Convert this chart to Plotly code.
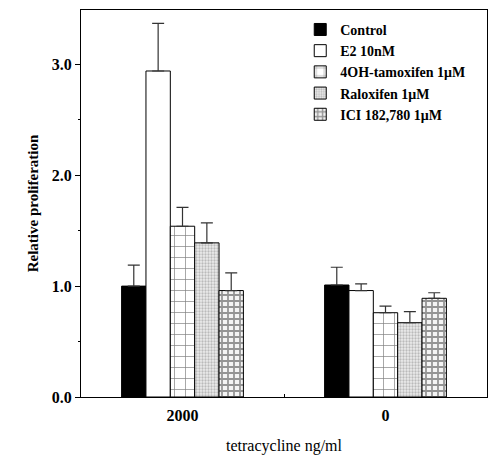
import plotly.graph_objects as go

categories = ["2000", "0"]
series_names = ["Control", "E2 10nM", "4OH-tamoxifen 1μM", "Raloxifen 1μM", "ICI 182,780 1μM"]
values = {
    "Control": [1.00, 1.01],
    "E2 10nM": [2.94, 0.96],
    "4OH-tamoxifen 1μM": [1.54, 0.76],
    "Raloxifen 1μM": [1.39, 0.67],
    "ICI 182,780 1μM": [0.96, 0.89],
}
errors = {
    "Control": [0.19, 0.16],
    "E2 10nM": [0.43, 0.06],
    "4OH-tamoxifen 1μM": [0.17, 0.06],
    "Raloxifen 1μM": [0.18, 0.10],
    "ICI 182,780 1μM": [0.16, 0.05],
}
y_ticks = [0.0, 1.0, 2.0, 3.0]
y_tick_labels = ["0.0", "1.0", "2.0", "3.0"]

styles = {
    "Control": dict(color="black", pattern=dict(shape="")),
    "E2 10nM": dict(color="white", pattern=dict(shape="")),
    "4OH-tamoxifen 1μM": dict(color="white", pattern=dict(shape="+", size=11, solidity=0.12, fgcolor="black", bgcolor="white", fillmode="overlay")),
    "Raloxifen 1μM": dict(color="white", pattern=dict(shape=".", size=3, solidity=0.45, fgcolor="#888888", bgcolor="#ececec", fillmode="overlay")),
    "ICI 182,780 1μM": dict(color="white", pattern=dict(shape="+", size=6, solidity=0.5, fgcolor="#333333", bgcolor="#f4f4f4", fillmode="overlay")),
}

fig = go.Figure()
for name in series_names:
    st = styles[name]
    fig.add_trace(go.Bar(
        name=name,
        x=categories,
        y=values[name],
        marker=dict(color=st["color"], pattern=st["pattern"], line=dict(color="black", width=1)),
        error_y=dict(type="data", array=errors[name], arrayminus=[0, 0], symmetric=False,
                     color="#333333", thickness=1.2, width=6),
    ))

font_serif = "Liberation Serif, Times New Roman, serif"
fig.update_layout(
    width=490, height=454,
    margin=dict(l=73, r=11, t=2, b=65, autoexpand=False),
    plot_bgcolor="white", paper_bgcolor="white",
    barmode="group", bargap=0.40, bargroupgap=0,
    font=dict(family=font_serif, color="black"),
    showlegend=True,
    legend=dict(x=0.54, y=0.99, xanchor="left", yanchor="top",
                font=dict(family=font_serif, size=14, color="black", weight="bold"),
                bgcolor="rgba(0,0,0,0)", itemwidth=30, tracegroupgap=0),
    xaxis=dict(
        showline=True, linecolor="black", linewidth=1, mirror=True,
        range=[-0.5, 1.5], automargin=False,
        ticks="inside", tickson="boundaries", ticklen=3, tickcolor="black",
        ticklabelstandoff=4,
        tickfont=dict(family=font_serif, size=16, weight="bold"),
        title=dict(text="tetracycline ng/ml", font=dict(family=font_serif, size=16), standoff=16),
        showgrid=False,
    ),
    yaxis=dict(
        showline=True, linecolor="black", linewidth=1, mirror=True,
        range=[0, 3.49], automargin=False,
        tickvals=y_ticks, ticktext=y_tick_labels,
        ticks="outside", ticklen=5, tickcolor="black",
        tickfont=dict(family=font_serif, size=16, weight="bold"),
        minor=dict(tickvals=[0.5, 1.5, 2.5], ticks="outside", ticklen=2, tickcolor="black"),
        title=dict(text="Relative proliferation", font=dict(family=font_serif, size=15, weight="bold"), standoff=9),
        showgrid=False, zeroline=False,
    ),
)

fig.write_html("out.html")
